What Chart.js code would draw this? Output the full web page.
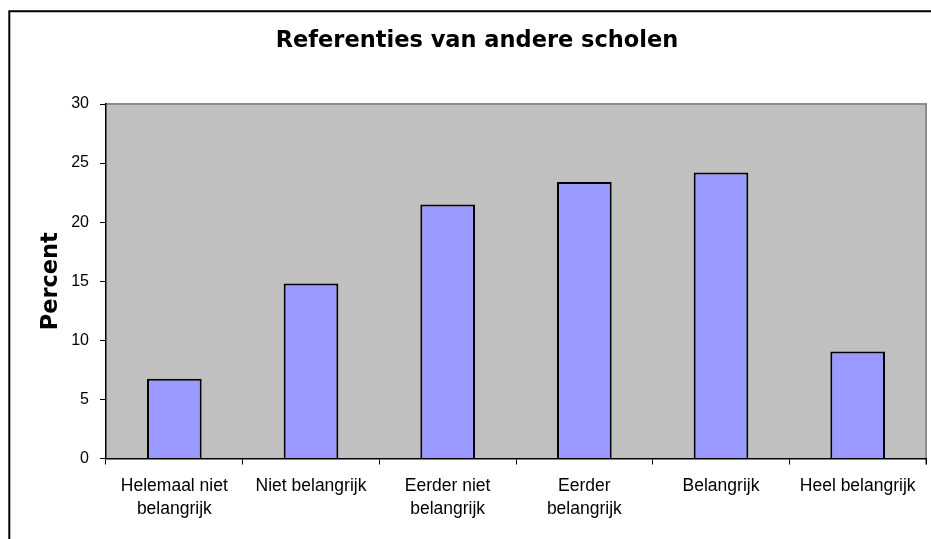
<!DOCTYPE html>
<html>
<head>
<meta charset="utf-8">
<script src="https://cdn.jsdelivr.net/npm/chart.js@4"></script>
<style>
  html, body { margin: 0; padding: 0; background: #fff; overflow: hidden; }
  #wrap { position: absolute; left: 0; top: 0; width: 960px; height: 539px; }
</style>
</head>
<body>
<div id="wrap"><canvas id="chart"></canvas></div>
<script>
// chart values
const categories = [
  ["Helemaal niet", "belangrijk"],
  "Niet belangrijk",
  ["Eerder niet", "belangrijk"],
  ["Eerder", "belangrijk"],
  "Belangrijk",
  "Heel belangrijk",
];
const percent = [6.75, 14.8, 21.5, 23.4, 24.2, 9.05];
const yTicks = [0, 5, 10, 15, 20, 25, 30];

const PLOT_BG = "#C0C0C0";
const BAR_FILL = "#9999FF";

// grey plot background, grey top/right edge and the outer frame
const plotBackground = {
  id: "plotBackground",
  beforeDraw(chart) {
    const { ctx, chartArea: a } = chart;
    ctx.save();
    ctx.fillStyle = PLOT_BG;
    ctx.fillRect(a.left, a.top, a.right - a.left, a.bottom - a.top);
    ctx.strokeStyle = "#8c8c8c";
    ctx.lineWidth = 2;
    ctx.beginPath();
    ctx.moveTo(a.left, a.top);
    ctx.lineTo(a.right, a.top);
    ctx.lineTo(a.right, a.bottom + 6);
    ctx.stroke();
    // outer frame (right and bottom edges fall outside the picture)
    ctx.strokeStyle = "#000";
    ctx.lineWidth = 2;
    ctx.beginPath();
    ctx.moveTo(9.3, chart.height + 5);
    ctx.lineTo(9.3, 11.3);
    ctx.lineTo(chart.width + 5, 11.3);
    ctx.stroke();
    ctx.restore();
  },
};

new Chart(document.getElementById("chart"), {
  type: "bar",
  data: {
    labels: categories,
    datasets: [
      {
        data: percent,
        backgroundColor: BAR_FILL,
        borderColor: "#000",
        borderWidth: 2,
        categoryPercentage: 1,
        barPercentage: 0.4,
      },
    ],
  },
  options: {
    responsive: true,
    maintainAspectRatio: false,
    animation: false,
    layout: { padding: { left: 28, right: 34, top: 0, bottom: 0 } },
    plugins: {
      legend: { display: false },
      tooltip: { enabled: false },
      title: {
        display: true,
        text: "Referenties van andere scholen",
        color: "#000",
        font: { family: "'DejaVu Sans', Verdana, sans-serif", size: 22.5, weight: "bold", lineHeight: 1.2 },
        padding: { top: 27.5, bottom: 49.5 },
      },
    },
    scales: {
      x: {
        grid: { display: true, drawOnChartArea: false, color: "#000", tickLength: 6, lineWidth: 1 },
        border: { display: true, color: "#000", width: 1.5 },
        ticks: {
          color: "#000",
          padding: 11,
          maxRotation: 0,
          autoSkip: false,
          font: { family: "'Liberation Sans', Arial, sans-serif", size: 17.5, lineHeight: 1.27 },
        },
        afterFit(scale) { scale.height = 80.5; },
      },
      y: {
        min: 0,
        max: 30,
        afterBuildTicks(scale) { scale.ticks = yTicks.map((v) => ({ value: v })); },
        grid: { display: true, drawOnChartArea: false, color: "#000", tickLength: 6, lineWidth: 1 },
        border: { display: true, color: "#000", width: 1.5 },
        ticks: {
          color: "#000",
          padding: 11,
          font: { family: "'Liberation Sans', Arial, sans-serif", size: 16 },
        },
        title: {
          display: true,
          text: "Percent",
          color: "#000",
          font: { family: "'DejaVu Sans', Verdana, sans-serif", size: 22.5, weight: "bold", lineHeight: 1.2 },
          padding: { top: 9.5, bottom: 0 },
        },
        afterFit(scale) { scale.width = 78; },
      },
    },
  },
  plugins: [plotBackground],
});
</script>
</body>
</html>
